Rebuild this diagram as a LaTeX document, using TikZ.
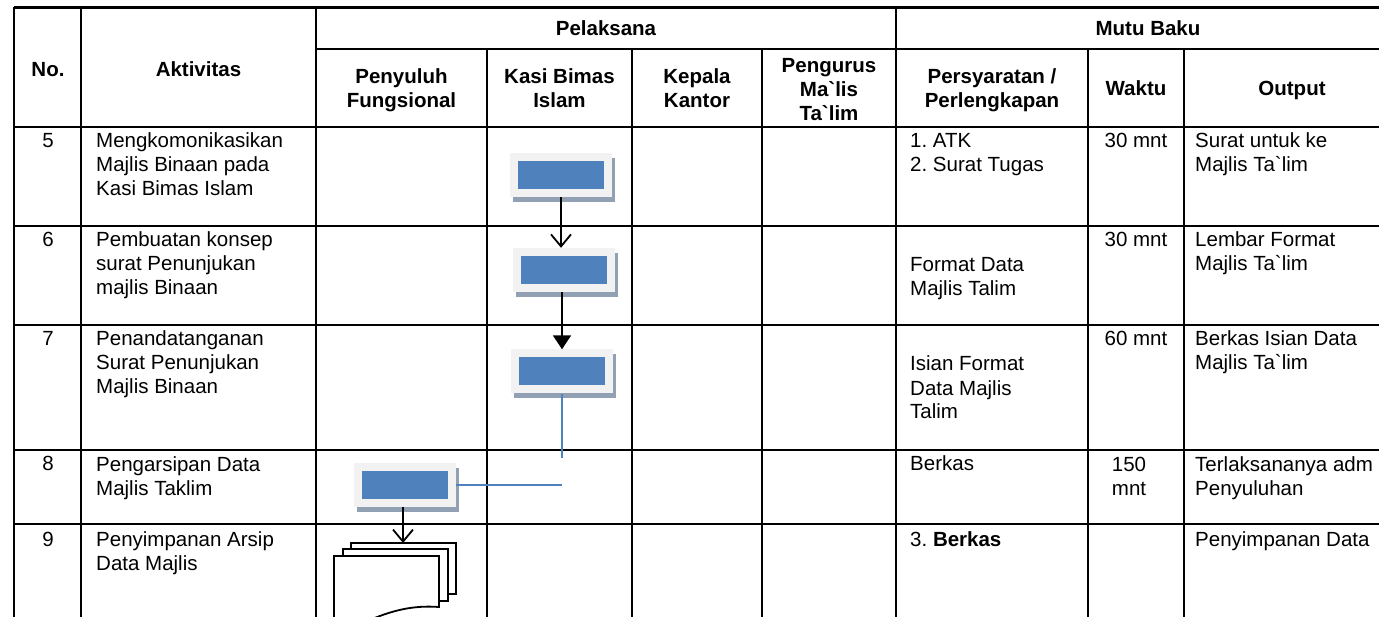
\documentclass[tikz,border=0pt]{standalone}
\usepackage{fontspec}
\newfontfamily\arialfont{Liberation Sans}
\usetikzlibrary{arrows.meta,shadows}
\definecolor{boxgray}{HTML}{F2F2F2}
\definecolor{boxblue}{HTML}{4F81BD}
\definecolor{shadowgray}{RGB}{146,160,180}
\frenchspacing
\begin{document}
\begin{tikzpicture}[x=1pt,y=-1pt,
  every node/.style={font=\arialfont\fontsize{20.5}{24}\selectfont, inner sep=0pt},
  grid/.style={line width=2.3pt},
  hdr/.style={font=\arialfont\bfseries\fontsize{20.5}{24}\selectfont, align=center, anchor=base},
  % multi-line cells are placed by the baseline of their last line
  cell/.style={align=left, anchor=base west},
  ctr/.style={align=center, anchor=base},
  procbox/.style={minimum width=102pt, minimum height=44pt, fill=boxgray,
    drop shadow={shadow xshift=3pt, shadow yshift=-5pt, fill=shadowgray, opacity=1},
    path picture={\fill[boxblue] ([shift={(8pt,8pt)}]path picture bounding box.south west)
      rectangle ([shift={(-8pt,-8pt)}]path picture bounding box.north east);}},
  flow/.style={line width=1.8pt},
  openhead/.style={-{Straight Barb[length=12pt,width=20pt]}},
  solidhead/.style={-{Triangle[length=14pt,width=18pt]}},
  link/.style={line width=2pt, draw=boxblue},
  sheet/.style={line width=1.8pt, fill=white, line join=miter}
]
\path[use as bounding box] (0,0) rectangle (1379,617);
\clip (0,0) rectangle (1379,617);

% table rules
\foreach \y in {7.5,127,226,325,450,524} \draw[grid] (14,\y) -- (1400,\y);
\draw[grid] (316,49) -- (1400,49);
\foreach \x in {14,81,316,896,1400} \draw[grid] (\x,7.5) -- (\x,640);
\foreach \x in {487,632,762,1088,1184} \draw[grid] (\x,49) -- (\x,640);

% header
\node[hdr] (hno)   at (48,77)      {No.};
\node[hdr] (hakt)  at (198.5,77)   {Aktivitas};
\node[hdr] (hpel)  at (606,36)     {Pelaksana};
\node[hdr] (hmutu) at (1148,36)    {Mutu Baku};
\node[hdr] (hpf)   at (401.5,107.5) {Penyuluh\\Fungsional};
\node[hdr] (hkasi) at (559.5,107.5) {Kasi Bimas\\Islam};
\node[hdr] (hkep)  at (697,107.5)   {Kepala\\Kantor};
\node[hdr] (hpeng) at (829,121)     {Pengurus\\Ma`lis\\Ta`lim};
\node[hdr] (hsyar) at (992,107.5)   {Persyaratan /\\Perlengkapan};
\node[hdr] (hwak)  at (1136,95.5)  {Waktu};
\node[hdr] (hout)  at (1292,95.5)  {Output};

% row 5
\node[ctr]  (n5) at (48,148)   {5};
\node[cell] (a5) at (96,196)   {Mengkomonikasikan\\Majlis Binaan pada\\Kasi Bimas Islam};
\node[cell] (p5) at (910,172)  {1. ATK\\2. Surat Tugas};
\node[ctr]  (w5) at (1136,148) {30 mnt};
\node[cell] (o5) at (1195,172) {Surat untuk ke\\Majlis Ta`lim};

% row 6
\node[ctr]  (n6) at (48,247)   {6};
\node[cell] (a6) at (96,295)   {Pembuatan konsep\\surat Penunjukan\\majlis Binaan};
\node[cell] (p6) at (910,296)  {Format Data\\Majlis Talim};
\node[ctr]  (w6) at (1136,247) {30 mnt};
\node[cell] (o6) at (1195,271) {Lembar Format\\Majlis Ta`lim};

% row 7
\node[ctr]  (n7) at (48,346)   {7};
\node[cell] (a7) at (96,394)   {Penandatanganan\\Surat Penunjukan\\Majlis Binaan};
\node[cell] (p7) at (910,419)  {Isian Format\\Data Majlis\\Talim};
\node[ctr]  (w7) at (1136,346) {60 mnt};
\node[cell] (o7) at (1195,370) {Berkas Isian Data\\Majlis Ta`lim};

% row 8
\node[ctr]  (n8) at (48,471)   {8};
\node[cell] (a8) at (96,495)   {Pengarsipan Data\\Majlis Taklim};
\node[cell] (p8) at (910,471)  {Berkas};
\node[ctr]  (w8) at (1129,495) {150\\mnt};
\node[cell] (o8) at (1195,495) {Terlaksananya adm\\Penyuluhan};

% row 9
\node[ctr]  (n9) at (48,546)   {9};
\node[cell] (a9) at (96,570)   {Penyimpanan Arsip\\Data Majlis};
\node[cell] (p9) at (910,546)  {3. \textbf{Berkas}};
\node[cell] (o9) at (1195,546) {Penyimpanan Data};

% process boxes
\node[procbox] (b1) at (561,175)   {};
\node[procbox] (b2) at (564,270)   {};
\node[procbox] (b3) at (562,371.5) {};
\node[procbox] (b4) at (405,484.5) {};

% stacked documents
\draw[sheet] (351,543) rectangle (456,594);
\draw[sheet] (343,549) rectangle (448,601);
\draw[sheet] (334,630) -- (334,556) -- (439,556) -- (439,607)
  .. controls (412,605) and (392,611) .. (372,619)
  .. controls (358,625) and (346,628) .. (334,630) -- cycle;
\coordinate (docs) at (403,543);

% connectors
\draw[flow,openhead]  (b1.south) -- (b1.south |- b2.north);
\draw[flow,solidhead] (b2.south -| b3.north) -- (b3.north);
\coordinate (j1) at (562,458);
\coordinate (j2) at (562,484.5);
\draw[link] (b3.south) -- (j1);
\draw[link] (b4.east) -- (j2);
\draw[flow,openhead]  (b4.south -| docs) -- (docs);
\end{tikzpicture}
\end{document}
